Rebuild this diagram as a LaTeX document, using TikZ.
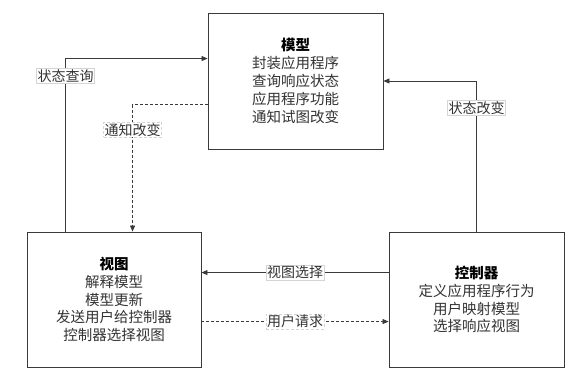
\documentclass[tikz,border=0pt]{standalone}
\usepackage{fontspec}
\setmainfont{Noto Sans CJK SC}
\usetikzlibrary{arrows.meta,calc}
\definecolor{linegray}{HTML}{3A3A3A}
\definecolor{txtgray}{HTML}{333333}
\definecolor{lblborder}{HTML}{D4D4D4}
\tikzset{
  box/.style={draw=linegray,line width=0.9pt,fill=white,align=center,inner sep=0pt,
    font=\fontsize{14.5}{17.8}\selectfont,text=txtgray},
  arr/.style={draw=linegray,line width=0.8pt,-{Triangle[length=6pt,width=5pt]}},
  dsh/.style={dash pattern=on 3pt off 2pt},
  lbl/.style={draw=lblborder,line width=0.5pt,fill=white,inner sep=1pt,
    font=\fontsize{14}{15}\selectfont,text=txtgray}
}
\begin{document}
\begin{tikzpicture}[x=1pt,y=-1pt]
\useasboundingbox (0,0) rectangle (569,380);
\node[box,minimum width=175pt,minimum height=136pt] (model) at (295.5,81)
  {\textbf{\color{black}模型}\\封装应用程序\\查询响应状态\\应用程序功能\\通知试图改变};
\node[box,minimum width=174pt,minimum height=135pt] (view) at (114,299.5)
  {\textbf{\color{black}视图}\\解释模型\\模型更新\\发送用户给控制器\\控制器选择视图};
\node[box,minimum width=175pt,minimum height=135pt] (ctrl) at (476.5,299.5)
  {\textbf{\color{black}控制器}\\定义应用程序行为\\用户映射模型\\选择响应视图};
% 状态查询
\draw[arr] ($(view.north west)+(39,0)$) |- ($(model.north west)+(0,46)$)
  node[lbl,pos=0.45] (l1) {状态查询};
% 通知改变
\draw[arr,dsh] ($(model.north west)+(0,92)$) -| ($(view.north west)+(106,0)$)
  node[lbl,pos=0.6] (l2) {通知改变};
% 状态改变
\draw[arr] (ctrl.north) |- (model.east)
  node[lbl,pos=0.41] (l3) {状态改变};
% 视图选择
\draw[arr] ($(ctrl.north west)+(0,41)$) -- ($(view.north east)+(0,41)$)
  node[lbl,midway] (l4) {视图选择};
% 用户请求
\draw[arr,dsh] ($(view.north east)+(0,90)$) -- ($(ctrl.north west)+(0,90)$)
  node[lbl,midway] (l5) {用户请求};
\end{tikzpicture}
\end{document}
